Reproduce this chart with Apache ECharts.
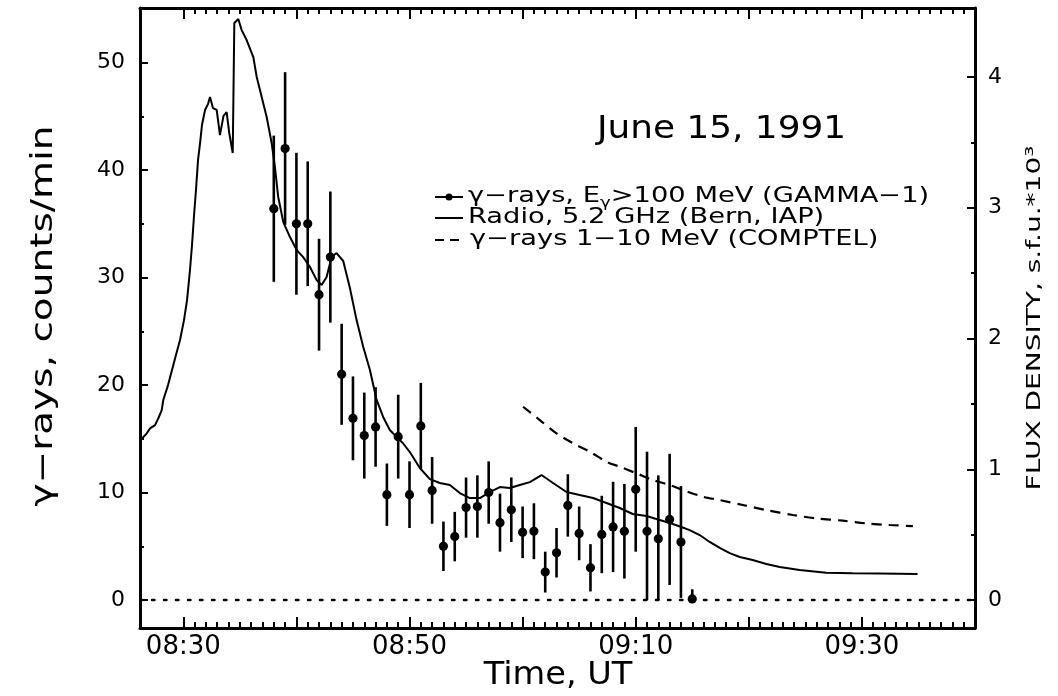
<!DOCTYPE html>
<html>
<head>
<meta charset="utf-8">
<script src="https://cdn.jsdelivr.net/npm/echarts@6.0.0/dist/echarts.min.js"></script>
<style>
html,body{margin:0;padding:0;background:#fff}
#main{width:1058px;height:696px}
</style>
</head>
<body>
<div id="main"></div>
<script>
// times are minutes after 08:00 UT
var gammaTime = [38,39,40,41,42,43,44,45,46,47,48,49,50,51,52,53,54,55,56,57,58,59,60,61,62,63,64,65,66,67,68,69,70,71,72,73,74,75];
var gammaRate = [36.4,42.0,35.0,35.0,28.4,31.9,21.0,16.9,15.3,16.1,9.8,15.2,9.8,16.2,10.2,5.0,5.9,8.6,8.7,10.0,7.2,8.4,6.3,6.4,2.6,4.4,8.8,6.2,3.0,6.1,6.8,6.4,10.3,6.4,5.7,7.5,5.4,0.1];
var gammaErr  = [6.8,7.1,6.6,5.8,5.2,6.1,4.7,3.9,4.0,3.7,2.9,3.9,3.1,4.0,3.1,2.3,2.3,2.8,2.9,2.9,2.7,3.0,2.4,2.6,1.9,2.3,2.9,2.5,2.2,3.6,4.2,4.4,5.8,7.4,5.9,6.1,5.2,0.9];

var radioTime = [26.22,26.77,27.06,27.50,27.79,28.09,28.23,28.65,29.00,29.35,29.71,30.06,30.33,30.59,30.77,30.95,31.12,31.30,31.48,31.65,
  31.92,32.18,32.36,32.62,32.95,33.24,33.55,33.83,34.06,34.37,34.51,34.86,35.16,35.60,36.19,36.49,36.93,37.37,37.81,38.10,
  38.39,38.84,39.43,40.02,40.60,41.20,41.79,42.23,42.67,43.11,43.55,44.14,44.73,45.32,45.91,46.50,47.09,47.67,48.26,48.86,
  49.41,50.03,50.91,51.80,52.68,53.57,54.45,55.33,56.22,57.10,57.98,58.87,59.75,60.64,61.67,62.69,63.88,65.05,66.23,67.41,
  68.59,69.74,70.95,72.12,73.01,74.04,74.77,75.66,76.54,77.43,78.31,79.20,80.34,81.55,82.73,84.49,86.85,89.18,91.56,94.92];
var radioFlux = [1.224,1.275,1.313,1.338,1.390,1.453,1.530,1.644,1.759,1.874,1.989,2.141,2.294,2.524,2.715,2.945,3.136,3.365,3.495,3.633,
  3.748,3.793,3.847,3.763,3.748,3.556,3.702,3.732,3.572,3.419,4.413,4.444,4.359,4.283,4.153,4.000,3.847,3.694,3.495,3.312,
  3.082,2.891,2.776,2.677,2.623,2.547,2.447,2.409,2.470,2.623,2.654,2.593,2.386,2.141,1.935,1.759,1.530,1.400,1.300,1.247,
  1.201,1.132,1.010,0.925,0.895,0.880,0.818,0.780,0.780,0.826,0.864,0.857,0.880,0.902,0.956,0.895,0.826,0.803,0.780,0.742,
  0.704,0.658,0.642,0.612,0.589,0.558,0.535,0.497,0.444,0.398,0.359,0.329,0.306,0.275,0.252,0.229,0.209,0.204,0.203,0.199];

var comptelTime = [60.04,61.52,62.99,64.46,65.94,67.41,68.59,70.06,71.53,73.00,74.18,75.95,77.43,79.48,81.55,83.90,85.97,88.32,90.39,92.45,94.51];
var comptelRate = [17.98,16.74,15.51,14.58,13.80,12.87,12.40,11.79,11.16,10.70,10.23,9.61,9.30,8.84,8.37,7.91,7.60,7.38,7.13,6.98,6.88];

var timeMajor = [30,40,50,60,70,80,90];
var timeLabels = [30,50,70,90];
var timeMinor = [];
for (var m = 30; m < 100; m++) timeMinor.push(m);
var rateMajor = [0,10,20,30,40,50];
var rateMinor = [5,15,25,35,45];
var fluxMajor = [0,1,2,3,4];
var fluxMinor = [0.5,1.5,2.5,3.5];

var FONT = '"DejaVu Sans", "Liberation Sans", sans-serif';
var xMin = 26.17, xMax = 100;
var rMin = -2.6, rMax = 55.07;
var fMin = -0.214, fMax = 4.528;

function hhmm(v) {
  var h = 8 + Math.floor(v / 60), mm = v % 60;
  return (h < 10 ? '0' : '') + h + ':' + (mm < 10 ? '0' : '') + mm;
}

function xAx(pos, ticks, len, showLine, labels) {
  return {
    type: 'value', position: pos, min: xMin, max: xMax,
    axisLine: {show: showLine, onZero: false, lineStyle: {color: '#000', width: 3}},
    axisTick: {show: true, inside: true, length: len, customValues: ticks, lineStyle: {color: '#000', width: 2}},
    axisLabel: labels ? {customValues: labels, formatter: hhmm, color: '#000', fontSize: 26, fontFamily: FONT, margin: 6} : {show: false},
    splitLine: {show: false}
  };
}
function yAx(pos, min, max, ticks, len, showLine, labels, margin) {
  return {
    type: 'value', position: pos, min: min, max: max,
    axisLine: {show: showLine, onZero: false, lineStyle: {color: '#000', width: 3}},
    axisTick: {show: true, inside: true, length: len, customValues: ticks, lineStyle: {color: '#000', width: 2}},
    axisLabel: labels ? {customValues: labels, color: '#000', fontSize: 22, fontFamily: FONT, margin: margin} : {show: false},
    splitLine: {show: false}
  };
}

function renderGamma(params, api) {
  var t = api.value(0), v = api.value(1), e = api.value(2);
  var top = api.coord([t, v + e]);
  var bot = api.coord([t, Math.max(0, v - e)]);
  var c = api.coord([t, v]);
  return {
    type: 'group',
    children: [
      {type: 'line', shape: {x1: top[0], y1: top[1], x2: bot[0], y2: bot[1]}, style: {stroke: '#000', lineWidth: 2.6}},
      {type: 'circle', shape: {cx: c[0], cy: c[1], r: 4.6}, style: {fill: '#000'}}
    ]
  };
}

function txt(x, y, s, size, sx, rot, align, rich) {
  return {
    type: 'text', x: x, y: y, scaleX: sx, rotation: rot || 0, silent: true,
    style: {text: s, font: size + 'px ' + FONT, fill: '#000', align: align || 'left', verticalAlign: 'middle', rich: rich}
  };
}

var chart = echarts.init(document.getElementById('main'));
chart.setOption({
  animation: false,
  backgroundColor: '#fff',
  grid: {left: 140, right: 83, top: 8, bottom: 68},
  xAxis: [
    xAx('bottom', timeMajor, 11, true, timeLabels),
    xAx('bottom', timeMinor, 6, false, null),
    xAx('top', timeMajor, 11, true, null),
    xAx('top', timeMinor, 6, false, null)
  ],
  yAxis: [
    yAx('left', rMin, rMax, rateMajor, 8, true, rateMajor, 15),
    yAx('right', fMin, fMax, fluxMajor, 8, true, fluxMajor, 13),
    yAx('left', rMin, rMax, rateMinor, 4, false, null, 0),
    yAx('right', fMin, fMax, fluxMinor, 4, false, null, 0)
  ],
  series: [
    {
      name: 'Radio, 5.2 GHz (Bern, IAP)', type: 'line', xAxisIndex: 0, yAxisIndex: 1,
      data: radioTime.map(function (t, i) { return [t, radioFlux[i]]; }),
      showSymbol: false, lineStyle: {color: '#000', width: 2}
    },
    {
      name: 'γ-rays 1-10 MeV (COMPTEL)', type: 'line', xAxisIndex: 0, yAxisIndex: 0,
      data: comptelTime.map(function (t, i) { return [t, comptelRate[i]]; }),
      showSymbol: false, smooth: 0.3, lineStyle: {color: '#000', width: 2.2, type: [10, 7]},
      markLine: {
        silent: true, symbol: 'none', label: {show: false},
        lineStyle: {color: '#000', width: 2.4, type: [2.5, 9.5], cap: 'round'},
        data: [{yAxis: 0}]
      }
    },
    {
      name: 'γ-rays, Eγ>100 MeV (GAMMA-1)', type: 'custom', xAxisIndex: 0, yAxisIndex: 0,
      renderItem: renderGamma, encode: {x: 0, y: 1},
      data: gammaTime.map(function (t, i) { return [t, gammaRate[i], gammaErr[i]]; })
    }
  ],
  graphic: [
    txt(44, 316, 'γ−rays, counts/min', 30, 1.3, Math.PI / 2, 'center'),
    txt(1035, 318, 'FLUX DENSITY, s.f.u.*10³', 20, 1.4, Math.PI / 2, 'center'),
    txt(558, 676, 'Time, UT', 32, 1.05, 0, 'center'),
    txt(597, 130, 'June 15, 1991', 32, 1.12, 0, 'left'),
    // legend
    {type: 'line', shape: {x1: 435, y1: 197, x2: 463, y2: 197}, style: {stroke: '#000', lineWidth: 2}},
    {type: 'circle', shape: {cx: 449, cy: 197, r: 3.5}, style: {fill: '#000'}},
    {type: 'line', shape: {x1: 435, y1: 218, x2: 463, y2: 218}, style: {stroke: '#000', lineWidth: 2}},
    {type: 'line', shape: {x1: 435, y1: 240, x2: 459, y2: 240}, style: {stroke: '#000', lineWidth: 2, lineDash: [9, 6]}},
    txt(468, 197, '{a|γ−rays, E}{b|γ}{a|>100 MeV (GAMMA−1)}', 21, 1.3, 0, 'left', {
      a: {fontSize: 21, fontFamily: FONT, lineHeight: 26, verticalAlign: 'middle'},
      b: {fontSize: 14, fontFamily: FONT, lineHeight: 14, verticalAlign: 'bottom'}
    }),
    txt(468, 218, 'Radio, 5.2 GHz (Bern, IAP)', 21, 1.3, 0, 'left'),
    txt(470, 240, 'γ−rays 1−10 MeV (COMPTEL)', 21, 1.3, 0, 'left')
  ]
});
</script>
</body>
</html>
